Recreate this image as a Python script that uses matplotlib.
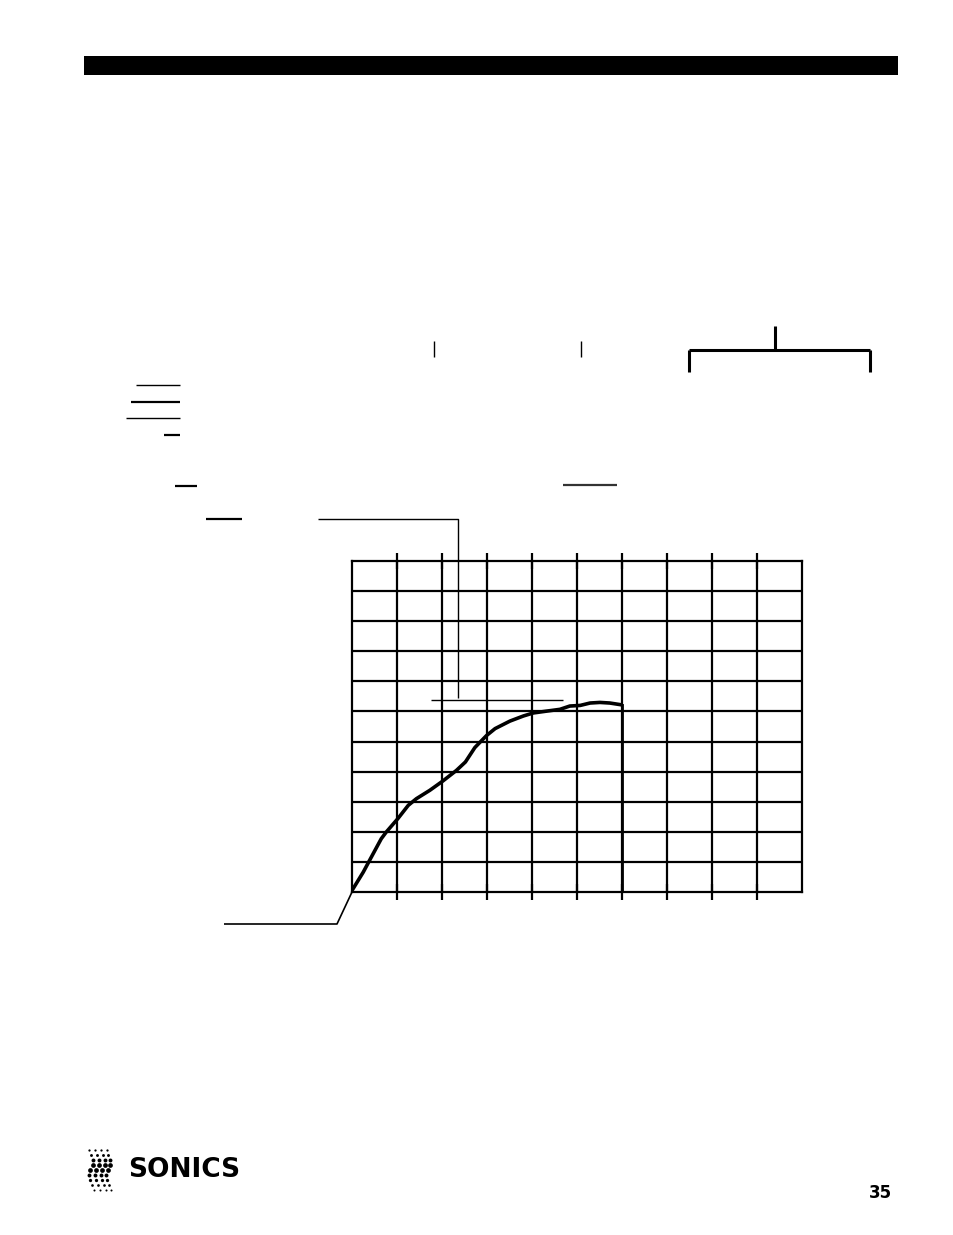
import matplotlib
matplotlib.use("Agg")
import matplotlib.pyplot as plt
import numpy as np

# curve (x in columns, y in rows)
curve_x = [0.0, 0.25, 0.39, 0.65, 0.76, 1.02, 1.25, 1.43, 1.73, 2.02, 2.32, 2.52,
           2.73, 2.99, 3.18, 3.51, 3.81, 4.03, 4.32, 4.62, 4.84, 5.07, 5.29, 5.51,
           5.73, 5.99]
curve_y = [0.05, 0.66, 1.05, 1.77, 1.99, 2.44, 2.88, 3.10, 3.38, 3.69, 4.04, 4.32,
           4.80, 5.20, 5.43, 5.68, 5.85, 5.95, 6.01, 6.07, 6.18, 6.20, 6.28, 6.30,
           6.28, 6.22]
drop_x = [6.0, 6.0]
drop_y = [6.22, 0.0]
n_cols = 10
n_rows = 11

W, H = 954, 1235
fig = plt.figure(figsize=(W / 100, H / 100), dpi=100)

# page layer in pixel coordinates
pg = fig.add_axes([0, 0, 1, 1])
pg.set_xlim(0, W)
pg.set_ylim(H, 0)
pg.axis("off")

# black header bar
pg.fill_between([84, 898], 56, 75, color="black", lw=0)

def seg(xs, ys, lw=1.0, c="black"):
    pg.plot(xs, ys, color=c, lw=lw, solid_capstyle="butt")

# small vertical markers
seg([434.3, 434.3], [341, 357], 1.0)
seg([581.3, 581.3], [341, 357], 1.0)
# bracket
seg([775, 775], [326, 350], 2.2)
seg([688.7, 870], [350, 350], 2.2)
seg([688.7, 688.7], [350, 372], 2.2)
seg([870, 870], [350, 372], 2.2)
# left short rules
seg([136, 180], [385, 385], 1.0)
seg([131, 180], [401.7, 401.7], 1.6)
seg([126, 180], [418.3, 418.3], 1.0)
seg([164, 180], [435, 435], 1.6)
seg([175, 197], [485.7, 485.7], 1.6)
seg([206, 242], [519, 519], 1.6)
seg([563, 617], [485, 485], 1.6, "#333333")
# leader into the chart
seg([318, 458.3, 458.3], [519, 519, 698], 1.0)
seg([431, 563], [700, 700], 1.0)
# leader from origin
seg([224, 337, 352], [924, 924, 892], 1.2)

# chart grid
ax = fig.add_axes([352 / W, (H - 892) / H, 450 / W, 331 / H])
ax.patch.set_alpha(0)
ax.set_xlim(0, n_cols)
ax.set_ylim(0, n_rows)
ax.set_xticks(range(1, n_cols))
ax.set_yticks(range(1, n_rows))
ax.tick_params(axis="x", direction="inout", length=12, width=1.6, top=True,
               bottom=True, labelbottom=False)
ax.tick_params(axis="y", length=0, labelleft=False)
ax.grid(True, color="black", lw=1.6)
for s in ax.spines.values():
    s.set_linewidth(1.6)

ax.plot(curve_x, curve_y, color="black", lw=2.6, solid_capstyle="round",
        solid_joinstyle="round", zorder=5)
ax.plot(drop_x, drop_y, color="black", lw=2.0, zorder=5)

# logo dots
rows = [(1150, 89.5, 1.1), (1155, 91, 1.4), (1160, 93, 1.9), (1165, 93, 2.3),
        (1170, 90.5, 2.3), (1175, 89, 1.9), (1180, 90, 1.6), (1185, 92, 1.3),
        (1190, 94, 1.0)]
for y, x0, r in rows:
    xs = x0 + 5.8 * np.arange(4)
    pg.scatter(xs, [y] * 4, s=r ** 2 * 2.2, color="black", lw=0)

pg.text(128, 1170, "SONICS", fontsize=19, fontweight="bold", va="center",
        ha="left", family="DejaVu Sans")
pg.text(892, 1193, "35", fontsize=12, fontweight="heavy", va="center",
        ha="right", family="DejaVu Sans")

fig.savefig("out.png", dpi=100)
